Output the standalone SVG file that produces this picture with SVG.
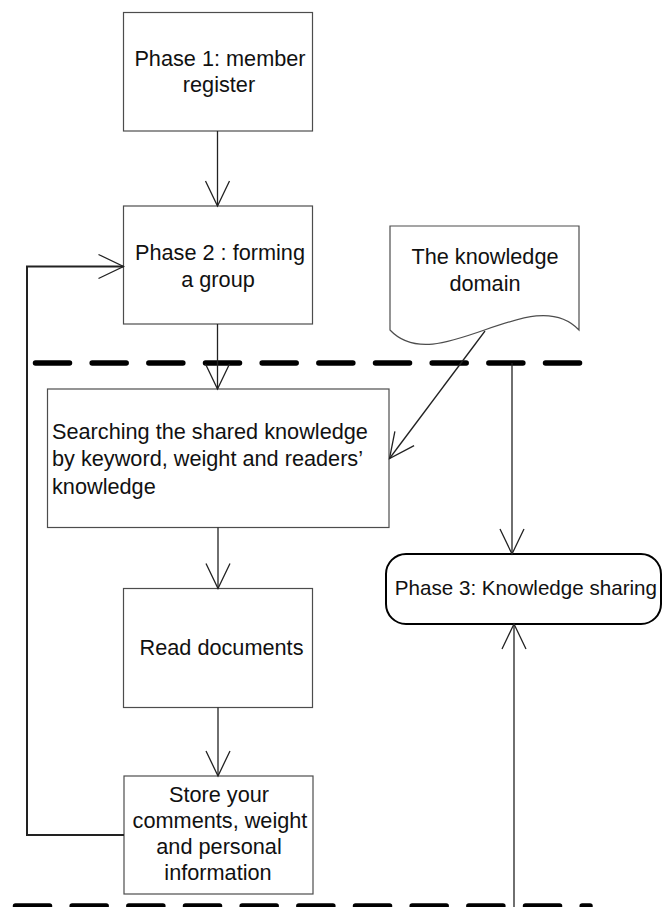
<svg xmlns="http://www.w3.org/2000/svg" width="670" height="907" viewBox="0 0 670 907">
<style>
.box{fill:#fff;stroke:#4d4d4d;stroke-width:1.2}
.t{font-family:"Liberation Sans",Arial,sans-serif;font-size:21.7px;fill:#111}
.m{text-anchor:middle}
.c{fill:none;stroke:#222;stroke-width:1.3}
.dash{fill:none;stroke:#000;stroke-width:5.5;stroke-linecap:round;stroke-dasharray:34 22.67}
</style>
<defs>
<marker id="arr" markerUnits="userSpaceOnUse" viewBox="0 0 26 24" refX="25" refY="12" markerWidth="26" markerHeight="24" orient="auto" overflow="visible">
<path d="M0,0 L25,12 L0,24" fill="none" stroke="#222" stroke-width="1.3"/>
</marker>
</defs>
<g id="separators">
<line class="dash" x1="35.5" y1="363" x2="580" y2="363"/>
<line class="dash" x1="15.5" y1="906" x2="590" y2="906"/>
</g>
<g id="phase1">
<rect class="box" x="123.5" y="12.5" width="189" height="118.5"/>
<text class="t m" x="220" y="65.5">Phase 1: member</text>
<text class="t m" x="219" y="92">register</text>
</g>
<g id="phase2">
<rect class="box" x="123.5" y="206" width="189" height="118"/>
<text class="t m" x="220" y="260">Phase 2 : forming</text>
<text class="t m" x="218" y="286.5">a group</text>
</g>
<g id="domain">
<path class="box" d="M390,330 V226 H579 V330 C532,280 437,380 390,330 Z"/>
<text class="t m" x="485" y="264">The knowledge</text>
<text class="t m" x="485" y="291">domain</text>
</g>
<g id="search">
<rect class="box" x="47.5" y="389" width="341.5" height="138.5"/>
<text class="t" x="52" y="438.5">Searching the shared knowledge</text>
<text class="t" x="52" y="466">by keyword, weight and readers’</text>
<text class="t" x="52" y="493.5">knowledge</text>
</g>
<g id="read">
<rect class="box" x="123.5" y="588.5" width="189" height="119"/>
<text class="t m" x="221.5" y="655">Read documents</text>
</g>
<g id="store">
<rect class="box" x="124" y="776" width="189" height="118"/>
<text class="t m" x="219" y="802">Store your</text>
<text class="t m" x="220" y="828">comments, weight</text>
<text class="t m" x="219" y="854">and personal</text>
<text class="t m" x="218" y="880">information</text>
</g>
<g id="phase3">
<rect x="386" y="554" width="275" height="70" rx="20" ry="20" fill="#fff" stroke="#000" stroke-width="2"/>
<text class="t" x="657" y="595" text-anchor="end" style="font-size:20.6px">Phase 3: Knowledge sharing</text>
</g>
<g id="connectors">
<line class="c" x1="217.5" y1="131" x2="217.5" y2="206" marker-end="url(#arr)"/>
<line class="c" x1="217.5" y1="324" x2="217.5" y2="389" marker-end="url(#arr)"/>
<line class="c" x1="218" y1="527.5" x2="218" y2="588.5" marker-end="url(#arr)"/>
<line class="c" x1="218" y1="707.5" x2="218" y2="776" marker-end="url(#arr)"/>
<polyline class="c" style="stroke-width:2" points="124,835 27,835 27,266.5 123.5,266.5" marker-end="url(#arr)"/>
<line class="c" x1="485" y1="331" x2="389.5" y2="458.5" marker-end="url(#arr)"/>
<line class="c" x1="512" y1="363" x2="512" y2="554" marker-end="url(#arr)"/>
<line class="c" x1="514" y1="907" x2="514" y2="624" marker-end="url(#arr)"/>
</g>
</svg>
